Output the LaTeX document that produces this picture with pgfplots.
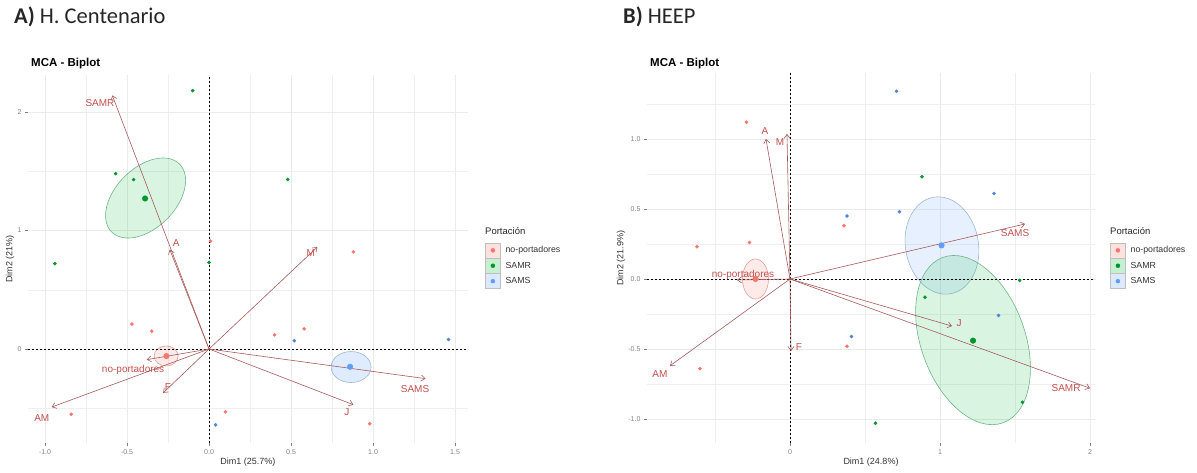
\documentclass[border=0pt]{standalone}
\usepackage{pgfplots}
\pgfplotsset{compat=1.18}
\usepackage{fontspec}
\setmainfont{Liberation Sans}
\newfontfamily\carlito{Carlito}
\usetikzlibrary{arrows.meta}

\definecolor{grpPink}{HTML}{F8766D}
\definecolor{grpGreen}{HTML}{00BA38}
\definecolor{grpBlue}{HTML}{619CFF}
\definecolor{pinkLine}{HTML}{E3A09B}
\definecolor{greenLine}{HTML}{6FB488}
\definecolor{blueLine}{HTML}{9FB7D6}
\definecolor{varArrow}{HTML}{A65A5A}
\definecolor{varText}{HTML}{C0504D}
\definecolor{gridc}{HTML}{EBEBEB}
\definecolor{tickc}{HTML}{808080}

\tikzset{varlab/.style={text=varText, font=\fontsize{10}{11}\selectfont, inner sep=0pt}}
\pgfplotsset{
  biplot/.style={
    scale only axis,
    axis x line*=bottom, axis y line*=left,
    axis line style={draw=none},
    grid=both,
    major grid style={draw=gridc, line width=0.6pt},
    minor grid style={draw=gridc!80, line width=0.4pt},
    tick style={draw=tickc, line width=0.5pt},
    major tick length=3pt, minor tick length=0pt,
    tick align=outside,
    ticklabel style={font=\fontsize{7}{8}\selectfont, text=tickc},
    /pgf/number format/assume math mode=true,
    label style={font=\fontsize{9}{10}\selectfont, text=black!80},
    clip=false,
    legend cell align=left,
    legend style={anchor=north west, draw=none, fill=none, inner sep=0pt,
      row sep=0pt, font=\fontsize{8.8}{9}\selectfont,
      nodes={inner sep=0pt, text=black!80},
      /tikz/every odd column/.append style={column sep=5pt}},
  },
  varvec/.style={draw=varArrow, line width=0.6pt, -{Straight Barb[length=4pt, width=6pt]}},
  ind/.style={only marks, mark=*, mark size=1.6pt},
  grpmean/.style={only marks, mark=*, mark size=2.8pt},
}
\newcommand{\legkey}[2]{\addlegendimage{legend image code/.code={%
  \draw[draw=black!25, fill=#1!22] (0pt,-7.5pt) rectangle (15pt,7.5pt);
  \fill[#2] (7.5pt,0pt) circle (2pt);}}}

\begin{document}
\begin{tikzpicture}
\useasboundingbox (0pt,0pt) rectangle (1197pt,473pt);

% ---------------- A) H. Centenario ----------------
\node[anchor=base west, inner sep=0pt, font=\carlito\fontsize{22.5}{24}\selectfont, text=black!85] at (14pt,449pt) {\textbf{A)} H. Centenario};
\node[anchor=base west, inner sep=0pt, font=\bfseries\fontsize{11.5}{12}\selectfont] at (31pt,406pt) {MCA - Biplot};

\begin{axis}[biplot, at={(28pt,30pt)}, anchor=south west,
  width=440pt, height=368pt,
  xmin=-1.104, xmax=1.579, ymin=-0.793, ymax=2.312,
  xtick={-1,-0.5,0,0.5,1,1.5}, xticklabels={-1.0,-0.5,0.0,0.5,1.0,1.5},
  minor xtick={-0.75,-0.25,0.25,0.75,1.25},
  ytick={0,1,2}, yticklabels={0,1,2}, minor ytick={-0.5,0.5,1.5},
  xlabel={Dim1 (25.7\%)}, ylabel={Dim2 (21\%)},
  xlabel style={at={(axis description cs:0.5,-0.052)}, anchor=center},
  ylabel style={at={(axis description cs:-0.041,0.5)}, anchor=center},
  legend style={at={(1.0386,0.545)}},
]
\legkey{grpPink}{grpPink}\addlegendentry{no-portadores}
\legkey{grpGreen}{grpGreen!80!black}\addlegendentry{SAMR}
\legkey{grpBlue}{grpBlue}\addlegendentry{SAMS}

% confidence ellipses of the group means
\path[draw=greenLine, fill=grpGreen, fill opacity=0.15, line width=0.6pt,
  rotate around={45:(axis cs:-0.387,1.274)}]
  (axis cs:-0.387,1.274) ellipse [x radius=48pt, y radius=30pt];
\path[draw=pinkLine, fill=grpPink, fill opacity=0.15, line width=0.6pt]
  (axis cs:-0.262,-0.059) ellipse [x radius=12pt, y radius=10pt];
\path[draw=blueLine, fill=grpBlue, fill opacity=0.2, line width=0.6pt]
  (axis cs:0.866,-0.152) ellipse [x radius=20pt, y radius=15.5pt];

% reference lines
\addplot[black, line width=0.6pt, dash pattern=on 2pt off 2pt] coordinates {(-1.104,0) (1.579,0)};
\addplot[black, line width=0.6pt, dash pattern=on 2pt off 2pt] coordinates {(0,-0.793) (0,2.312)};

% individuals
\addplot[ind, grpPink] coordinates {(-0.47,0.21) (-0.35,0.15) (-0.84,-0.55) (0.10,-0.53)
  (0.40,0.12) (0.58,0.17) (0.88,0.82) (0.98,-0.63) (0.01,0.91)};
\addplot[ind, grpGreen!80!black] coordinates {(-0.10,2.18) (-0.57,1.48) (-0.46,1.43)
  (0.48,1.43) (-0.94,0.72) (0.00,0.73)};
\addplot[ind, grpBlue!85!black] coordinates {(0.52,0.07) (1.46,0.08) (0.04,-0.64)};

% group means
\addplot[grpmean, grpPink] coordinates {(-0.26,-0.06)};
\addplot[grpmean, grpGreen!80!black] coordinates {(-0.39,1.27)};
\addplot[grpmean, grpBlue] coordinates {(0.86,-0.15)};

% variable categories
\addplot[varvec] coordinates {(0,0) (-0.59,2.14)};
\addplot[varvec] coordinates {(0,0) (-0.24,0.84)};
\addplot[varvec] coordinates {(0,0) (0.66,0.86)};
\addplot[varvec] coordinates {(0,0) (1.32,-0.25)};
\addplot[varvec] coordinates {(0,0) (0.88,-0.47)};
\addplot[varvec] coordinates {(0,0) (-0.38,-0.09)};
\addplot[varvec] coordinates {(0,0) (-0.28,-0.37)};
\addplot[varvec] coordinates {(0,0) (-0.96,-0.49)};

\node[varlab] at (axis cs:-0.665,2.076) {SAMR};
\node[varlab] at (axis cs:-0.20,0.895) {A};
\node[varlab] at (axis cs:0.62,0.81) {M};
\node[varlab] at (axis cs:1.256,-0.34) {SAMS};
\node[varlab] at (axis cs:0.84,-0.53) {J};
\node[varlab] at (axis cs:-0.463,-0.177) {no-portadores};
\node[varlab] at (axis cs:-0.25,-0.32) {F};
\node[varlab] at (axis cs:-1.02,-0.58) {AM};
\end{axis}
\node[anchor=west, inner sep=0pt, font=\fontsize{9.5}{10}\selectfont, text=black!85] at (485pt,242pt) {Portación};

% ---------------- B) HEEP ----------------
\node[anchor=base west, inner sep=0pt, font=\carlito\fontsize{22.5}{24}\selectfont, text=black!85] at (623pt,449pt) {\textbf{B)} HEEP};
\node[anchor=base west, inner sep=0pt, font=\bfseries\fontsize{11.5}{12}\selectfont] at (650pt,406pt) {MCA - Biplot};

\begin{axis}[biplot, at={(647pt,30pt)}, anchor=south west,
  width=448pt, height=370pt,
  xmin=-0.953, xmax=2.033, ymin=-1.171, ymax=1.471,
  xtick={0,1,2}, xticklabels={0,1,2}, minor xtick={-0.5,0.5,1.5},
  ytick={-1,-0.5,0,0.5,1}, yticklabels={-1.0,-0.5,0.0,0.5,1.0},
  minor ytick={-0.75,-0.25,0.25,0.75,1.25},
  xlabel={Dim1 (24.8\%)}, ylabel={Dim2 (21.9\%)},
  xlabel style={at={(axis description cs:0.5,-0.051)}, anchor=center},
  ylabel style={at={(axis description cs:-0.058,0.5)}, anchor=center},
  legend style={at={(1.0335,0.542)}},
]
\legkey{grpPink}{grpPink}\addlegendentry{no-portadores}
\legkey{grpGreen}{grpGreen!80!black}\addlegendentry{SAMR}
\legkey{grpBlue}{grpBlue}\addlegendentry{SAMS}

% confidence ellipses of the group means
\path[draw=blueLine, fill=grpBlue, fill opacity=0.15, line width=0.6pt,
  rotate around={10:(axis cs:1.013,0.239)}]
  (axis cs:1.013,0.239) ellipse [x radius=36.5pt, y radius=49pt];
\path[draw=greenLine, fill=grpGreen, fill opacity=0.15, line width=0.6pt,
  rotate around={20:(axis cs:1.22,-0.436)}]
  (axis cs:1.22,-0.436) ellipse [x radius=52pt, y radius=88pt];
\path[draw=pinkLine, fill=grpPink, fill opacity=0.15, line width=0.6pt]
  (axis cs:-0.23,0.0) ellipse [x radius=13pt, y radius=20pt];

% reference lines
\addplot[black, line width=0.6pt, dash pattern=on 2pt off 2pt] coordinates {(-0.953,0) (2.033,0)};
\addplot[black, line width=0.6pt, dash pattern=on 2pt off 2pt] coordinates {(0,-1.171) (0,1.471)};

% individuals
\addplot[ind, grpPink] coordinates {(-0.29,1.12) (-0.62,0.23) (-0.27,0.26) (0.36,0.38)
  (0.38,-0.48) (-0.60,-0.64)};
\addplot[ind, grpGreen!80!black] coordinates {(0.88,0.73) (1.53,-0.01) (0.90,-0.13)
  (1.55,-0.88) (0.57,-1.03)};
\addplot[ind, grpBlue!85!black] coordinates {(0.38,0.45) (0.71,1.34) (1.36,0.61)
  (0.73,0.48) (1.39,-0.26) (0.41,-0.41)};

% group means
\addplot[grpmean, grpPink] coordinates {(-0.23,0.0)};
\addplot[grpmean, grpBlue] coordinates {(1.01,0.24)};
\addplot[grpmean, grpGreen!80!black] coordinates {(1.22,-0.44)};

% variable categories
\addplot[varvec] coordinates {(0,0) (-0.16,1.00)};
\addplot[varvec] coordinates {(0,0) (-0.02,1.036)};
\addplot[varvec] coordinates {(0,0) (1.567,0.393)};
\addplot[varvec] coordinates {(0,0) (1.08,-0.336)};
\addplot[varvec] coordinates {(0,0) (2.0,-0.78)};
\addplot[varvec] coordinates {(0,0) (0.007,-0.514)};
\addplot[varvec] coordinates {(0,0) (-0.80,-0.62)};
\addplot[varvec] coordinates {(0,0) (-0.353,-0.007)};

\node[varlab] at (axis cs:-0.167,1.057) {A};
\node[varlab] at (axis cs:-0.067,0.98) {M};
\node[varlab] at (axis cs:1.50,0.33) {SAMS};
\node[varlab] at (axis cs:1.127,-0.314) {J};
\node[varlab] at (axis cs:1.84,-0.78) {SAMR};
\node[varlab] at (axis cs:0.06,-0.486) {F};
\node[varlab] at (axis cs:-0.867,-0.68) {AM};
\node[varlab] at (axis cs:-0.313,0.03) {no-portadores};
\end{axis}
\node[anchor=west, inner sep=0pt, font=\fontsize{9.5}{10}\selectfont, text=black!85] at (1110pt,242pt) {Portación};
\end{tikzpicture}
\end{document}
